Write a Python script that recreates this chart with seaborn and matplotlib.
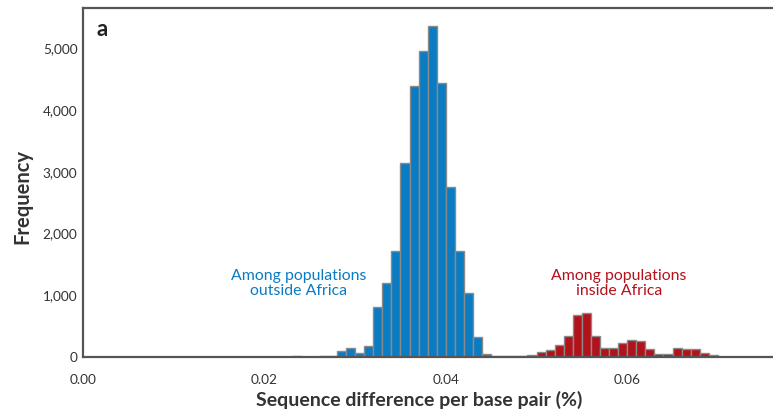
import numpy as np
import pandas as pd
import matplotlib
matplotlib.use("Agg")
import matplotlib.pyplot as plt
import seaborn as sns

# bin starts in units of 0.001 (% difference per bp), and frequencies
outside_bins = [23, 24, 25, 26, 27, 28, 29, 30, 31, 32, 33, 34, 35, 36, 37, 38,
                39, 40, 41, 42, 43, 44, 45, 46]
outside_counts = [20, 0, 0, 15, 20, 95, 140, 65, 185, 805, 1200, 1720, 3140, 4390,
                  4960, 5360, 4445, 2762, 1720, 1030, 330, 50, 12, 10]
inside_bins = [47, 48, 49, 50, 51, 52, 53, 54, 55, 56, 57, 58, 59, 60, 61, 62,
               63, 64, 65, 66, 67, 68, 69]
inside_counts = [10, 12, 38, 86, 108, 200, 340, 674, 717, 340, 146, 146, 227, 270,
                 253, 124, 54, 54, 151, 124, 124, 62, 25]
x_ticks = [0.00, 0.02, 0.04, 0.06]
y_ticks = [0, 1000, 2000, 3000, 4000, 5000]

BLUE = "#0a7cc4"
RED = "#b3121b"
EDGE = "#8a8a8a"
TXT = "#333333"

sns.set_style("white")
plt.rcParams["font.family"] = ["Lato", "DejaVu Sans"]

fig = plt.figure(figsize=(7.73, 4.12), dpi=100)
ax = fig.add_axes([83 / 773, 1 - 357 / 412, 1 - 83 / 773, (357 - 8) / 412])

BW = 0.001
out_df = pd.DataFrame({"d": [(b + 0.5) * BW for b in outside_bins], "n": outside_counts})
in_df = pd.DataFrame({"d": [(b + 0.5) * BW for b in inside_bins], "n": inside_counts})

out_edges = [b * BW for b in range(outside_bins[0], outside_bins[-1] + 2)]
in_edges = [b * BW for b in range(inside_bins[0], inside_bins[-1] + 2)]

sns.histplot(data=out_df, x="d", weights="n", bins=out_edges,
             color=BLUE, alpha=1, edgecolor=EDGE, linewidth=1.0, ax=ax)
sns.histplot(data=in_df, x="d", weights="n", bins=in_edges,
             color=RED, alpha=1, edgecolor=EDGE, linewidth=1.0, ax=ax)

ax.set_xlim(0, (773 - 83) / 9.07 * 0.001)
ax.set_ylim(0, (357 - 8) / 0.0617)

ax.set_xticks(x_ticks)
ax.set_xticklabels([f"{t:.2f}" for t in x_ticks])
ax.set_yticks(y_ticks)
ax.set_yticklabels([f"{t:,}" for t in y_ticks])
ax.tick_params(axis="both", direction="in", length=5, width=1.2, color="#444444",
               labelsize=9.8, labelcolor=TXT, pad=4)
ax.tick_params(axis="x", pad=12)

for side in ["left", "top", "bottom"]:
    ax.spines[side].set_visible(True)
    ax.spines[side].set_color("#555555")
    ax.spines[side].set_linewidth(1.6)
ax.spines["right"].set_visible(False)

ax.set_xlabel("Sequence difference per base pair (%)", fontsize=14, fontweight="bold",
              color=TXT)
ax.set_ylabel("Frequency", fontsize=14.5, fontweight="bold", color=TXT)
ax.xaxis.set_label_coords(0.487, -0.098)
ax.yaxis.set_label_coords(-0.074, 0.461)

ax.text(0.0238, 950, "Among populations\noutside Africa", color=BLUE, fontsize=11.4,
        ha="center", va="bottom", linespacing=1.15)
ax.text(0.0591, 950, "Among populations\ninside Africa", color=RED, fontsize=11.4,
        ha="center", va="bottom", linespacing=1.15)
ax.text(0.0015, 5300, "a", fontsize=16, fontweight="bold", color="#222222",
        ha="left", va="center")

fig.savefig("out.png", dpi=100)
